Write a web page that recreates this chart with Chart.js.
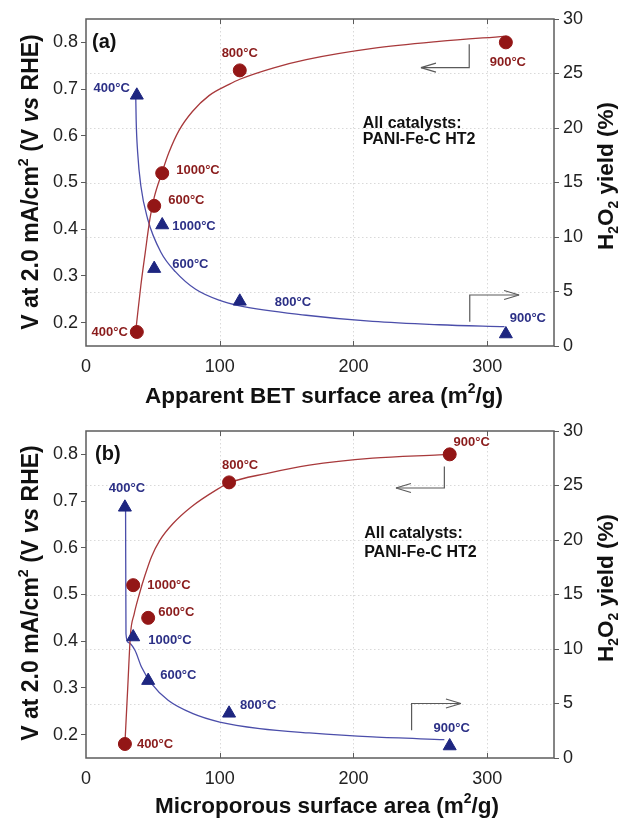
<!DOCTYPE html>
<html>
<head>
<meta charset="utf-8">
<script src="https://cdn.jsdelivr.net/npm/chart.js@4.4.0/dist/chart.umd.min.js"></script>
<style>
  body { margin: 0; background: #fff; }
  canvas { display: block; }
</style>
</head>
<body>
<canvas id="chartA" width="619" height="410"></canvas>
<canvas id="chartB" width="619" height="411"></canvas>
<script>
// catalyst heat-treatment temperatures (same order in every array)
const tempLabels = ['400°C', '600°C', '800°C', '900°C', '1000°C'];
const betArea = [38, 51, 115, 314, 57];          // apparent BET surface area, m2/g
const microArea = [29.1, 46.5, 107, 272, 35.3];  // microporous surface area, m2/g
const potentialV = [0.18, 0.45, 0.74, 0.80, 0.52]; // V at 2.0 mA/cm2
const h2o2Yield = [23.0, 7.1, 4.1, 1.1, 11.1];    // %

// fit curves
const betFitVx = [37.5, 41, 44.3, 47.8, 51, 56.7, 62, 69.7, 79.6, 92, 107, 115, 139.8, 164.7, 214.4, 264, 313];
const betFitVy = [0.19, 0.279, 0.35, 0.422, 0.468, 0.52, 0.564, 0.612, 0.652, 0.686, 0.710, 0.721, 0.745, 0.763, 0.787, 0.802, 0.813];
const betFitYx = [37.2, 37.5, 38.6, 41, 46, 56, 67, 82, 99.5, 115, 164.7, 214.4, 264, 313];
const betFitYy = [23.0, 20.8, 17.8, 14.7, 11.7, 8.6, 6.8, 5.2, 4.2, 3.68, 2.82, 2.25, 1.95, 1.77];
const microFitVx = [29.1, 31.2, 33.3, 36, 39.8, 44, 49, 55.2, 65.1, 78.9, 97.5, 107, 134.8, 167, 214.4, 264, 271];
const microFitVy = [0.18, 0.30, 0.416, 0.458, 0.50, 0.54, 0.581, 0.616, 0.652, 0.688, 0.724, 0.739, 0.759, 0.777, 0.792, 0.799, 0.80];
const microFitYx = [29.6, 29.9, 31.5, 36.6, 41.5, 49, 61.4, 80, 100, 129.9, 167, 214.4, 268];
const microFitYy = [23.0, 11.4, 10.6, 9.88, 8.35, 6.83, 5.3, 4.07, 3.3, 2.7, 2.3, 1.93, 1.69];

// axis ticks
const xTicks = [0, 100, 200, 300];
const vTicks = [0.2, 0.3, 0.4, 0.5, 0.6, 0.7, 0.8];
const yieldTicks = [0, 5, 10, 15, 20, 25, 30];

const FONT = '"Liberation Sans", Arial, Helvetica, sans-serif';
const RED = '#931616';
const RED_TXT = '#8a1c1c';
const RED_LINE = '#a8393b';
const BLUE = '#1e2680';
const BLUE_TXT = '#2c3086';
const BLUE_LINE = '#4b4eaa';

const vTitle = [{ t: 'V at 2.0 mA/cm' }, { t: '2', s: 'sup' }, { t: ' (V ' }, { t: 'vs', i: true }, { t: ' RHE)' }];
const yTitle = [{ t: 'H' }, { t: '2', s: 'sub' }, { t: 'O' }, { t: '2', s: 'sub' }, { t: ' yield (%)' }];

// panel layout: offsets of the temperature labels are pixels relative to the marker
const panels = [
    {
        canvas: 'chartA', tag: '(a)', area: betArea,
        vFitX: betFitVx, vFitY: betFitVy, yFitX: betFitYx, yFitY: betFitYy,
        xTitle: [{ t: 'Apparent BET surface area (m' }, { t: '2', s: 'sup' }, { t: '/g)' }],
        padTop: 19, xAxisH: 64,
        titlePos: { xCx: 324, xCy: 397, lCx: 32, lCy: 182, rCx: 607, rCy: 176 },
        tagPos: [92, 42],
        redLab: [[-9, 0, 'right'], [14, -5, 'left'], [0, -17, 'center'], [2, 20, 'center'], [14, -3, 'left']],
        blueLab: [[-7, -7, 'right'], [18, -4, 'left'], [35, 1, 'left'], [22, -16, 'center'], [10, 1, 'left']],
        note: [207, 0.627, 0.591],
        redArrow: [[286.6, 0.796], [286.6, 0.746], [250.5, 0.746]],
        blueArrow: [[287, 2.23], [287, 4.68], [323.9, 4.68]]
    },
    {
        canvas: 'chartB', tag: '(b)', area: microArea,
        vFitX: microFitVx, vFitY: microFitVy, yFitX: microFitYx, yFitY: microFitYy,
        xTitle: [{ t: 'Microporous surface area (m' }, { t: '2', s: 'sup' }, { t: '/g)' }],
        padTop: 21, xAxisH: 63,
        titlePos: { xCx: 327, xCy: 397, lCx: 32, lCy: 183, rCx: 607, rCy: 178 },
        tagPos: [95, 44],
        redLab: [[12, 0, 'left'], [10, -5, 'left'], [11, -17, 'center'], [22, -12, 'center'], [14, 0, 'left']],
        blueLab: [[2, -19, 'center'], [12, -5, 'left'], [11, -8, 'left'], [2, -18, 'center'], [15, 3, 'left']],
        note: [208, 0.631, 0.589],
        redArrow: [[268, 0.774], [268, 0.728], [231.8, 0.728]],
        blueArrow: [[243.5, 2.54], [243.5, 5.0], [280.4, 5.0]]
    }
];

// text with super/subscripts and italics, centred on (cx, cy)
function drawRich(ctx, parts, cx, cy, rot, size) {
    ctx.save();
    ctx.translate(cx, cy);
    ctx.rotate(rot);
    let total = 0;
    const items = parts.map(p => {
        const fs = p.s ? size * 0.62 : size;
        const font = (p.i ? 'italic ' : '') + 'bold ' + fs + 'px ' + FONT;
        ctx.font = font;
        const w = ctx.measureText(p.t).width;
        total += w;
        return { t: p.t, s: p.s, font: font, w: w };
    });
    let x = -total / 2;
    ctx.textAlign = 'left';
    ctx.textBaseline = 'middle';
    ctx.fillStyle = '#111';
    items.forEach(it => {
        ctx.font = it.font;
        const dy = it.s === 'sup' ? -size * 0.36 : it.s === 'sub' ? size * 0.3 : 0;
        ctx.fillText(it.t, x, dy);
        x += it.w;
    });
    ctx.restore();
}

function drawArrow(ctx, pts) {
    ctx.beginPath();
    ctx.moveTo(pts[0][0], pts[0][1]);
    for (let i = 1; i < pts.length; i++) ctx.lineTo(pts[i][0], pts[i][1]);
    ctx.stroke();
    const [x1, y1] = pts[pts.length - 2];
    const [x2, y2] = pts[pts.length - 1];
    const ang = Math.atan2(y2 - y1, x2 - x1);
    const len = 15, half = 4.5;
    ctx.beginPath();
    for (const s of [-1, 1]) {
        ctx.moveTo(x2, y2);
        ctx.lineTo(x2 - len * Math.cos(ang) - s * half * Math.sin(ang),
                   y2 - len * Math.sin(ang) + s * half * Math.cos(ang));
    }
    ctx.stroke();
}

function overlay(p) {
    return {
        id: 'overlay',
        beforeDatasetsDraw(chart) {
            const { ctx, chartArea: a, scales } = chart;
            ctx.save();
            ctx.strokeStyle = '#d9d9d9';
            ctx.lineWidth = 1;
            ctx.setLineDash([1.5, 2.5]);
            xTicks.forEach(v => {
                if (v <= 0) return;
                const px = Math.round(scales.x.getPixelForValue(v)) + 0.5;
                ctx.beginPath(); ctx.moveTo(px, a.top); ctx.lineTo(px, a.bottom); ctx.stroke();
            });
            yieldTicks.forEach(v => {
                if (v <= 0 || v >= 30) return;
                const py = Math.round(scales.y2.getPixelForValue(v)) + 0.5;
                ctx.beginPath(); ctx.moveTo(a.left, py); ctx.lineTo(a.right, py); ctx.stroke();
            });
            ctx.restore();
        },
        afterDraw(chart) {
            const { ctx, chartArea: a, scales } = chart;
            const sx = scales.x, sy = scales.y, sy2 = scales.y2;
            ctx.save();

            // frame and inward x ticks
            ctx.strokeStyle = '#5c5c5c';
            ctx.lineWidth = 1.5;
            ctx.strokeRect(a.left, a.top, a.right - a.left, a.bottom - a.top);
            ctx.lineWidth = 1;
            xTicks.forEach(v => {
                if (v <= 0) return;
                const px = Math.round(sx.getPixelForValue(v)) + 0.5;
                ctx.beginPath();
                ctx.moveTo(px, a.bottom); ctx.lineTo(px, a.bottom - 5);
                ctx.moveTo(px, a.top); ctx.lineTo(px, a.top + 5);
                ctx.stroke();
            });

            // arrows pointing to the matching axis
            ctx.strokeStyle = '#5a5a5a';
            ctx.lineWidth = 1.2;
            drawArrow(ctx, p.redArrow.map(q => [sx.getPixelForValue(q[0]), sy.getPixelForValue(q[1])]));
            drawArrow(ctx, p.blueArrow.map(q => [sx.getPixelForValue(q[0]), sy2.getPixelForValue(q[1])]));

            // temperature labels
            ctx.font = 'bold 13px ' + FONT;
            ctx.textBaseline = 'middle';
            tempLabels.forEach((lab, i) => {
                const rx = sx.getPixelForValue(p.area[i]);
                let o = p.redLab[i];
                ctx.fillStyle = RED_TXT;
                ctx.textAlign = o[2];
                ctx.fillText(lab, rx + o[0], sy.getPixelForValue(potentialV[i]) + o[1]);
                o = p.blueLab[i];
                ctx.fillStyle = BLUE_TXT;
                ctx.textAlign = o[2];
                ctx.fillText(lab, rx + o[0], sy2.getPixelForValue(h2o2Yield[i]) + o[1]);
            });

            // notes
            ctx.fillStyle = '#111';
            ctx.textAlign = 'left';
            ctx.font = 'bold 16px ' + FONT;
            const nx = sx.getPixelForValue(p.note[0]);
            ctx.fillText('All catalysts:', nx, sy.getPixelForValue(p.note[1]));
            ctx.fillText('PANI-Fe-C HT2', nx, sy.getPixelForValue(p.note[2]));
            ctx.font = 'bold 20px ' + FONT;
            ctx.fillText(p.tag, p.tagPos[0], p.tagPos[1]);

            // axis titles
            const tp = p.titlePos;
            drawRich(ctx, p.xTitle, tp.xCx, tp.xCy, 0, 22.5);
            drawRich(ctx, vTitle, tp.lCx, tp.lCy, -Math.PI / 2, 23);
            drawRich(ctx, yTitle, tp.rCx, tp.rCy, -Math.PI / 2, 22.5);
            ctx.restore();
        }
    };
}

function buildPanel(p) {
    const redPts = p.area.map((x, i) => ({ x: x, y: potentialV[i] }));
    const bluePts = p.area.map((x, i) => ({ x: x, y: h2o2Yield[i] }));
    const redFit = p.vFitX.map((x, i) => ({ x: x, y: p.vFitY[i] }));
    const blueFit = p.yFitX.map((x, i) => ({ x: x, y: p.yFitY[i] }));
    const tickFont = { family: FONT, size: 18 };

    new Chart(document.getElementById(p.canvas), {
        type: 'line',
        data: {
            datasets: [
                { data: redPts, yAxisID: 'y', showLine: false, pointStyle: 'circle', pointRadius: 6.5,
                  backgroundColor: RED, borderColor: RED, borderWidth: 1 },
                { data: bluePts, yAxisID: 'y2', showLine: false, pointStyle: 'triangle', pointRadius: 7.5,
                  backgroundColor: BLUE, borderColor: BLUE, borderWidth: 1 },
                { data: redFit, yAxisID: 'y', pointRadius: 0, borderColor: RED_LINE, borderWidth: 1.3,
                  cubicInterpolationMode: 'monotone', fill: false },
                { data: blueFit, yAxisID: 'y2', pointRadius: 0, borderColor: BLUE_LINE, borderWidth: 1.3,
                  cubicInterpolationMode: 'monotone', fill: false }
            ]
        },
        options: {
            responsive: false,
            animation: false,
            events: [],
            layout: { padding: { top: p.padTop, left: 0, right: 0, bottom: 0 } },
            plugins: { legend: { display: false }, tooltip: { enabled: false } },
            scales: {
                x: {
                    type: 'linear', min: 0, max: 350,
                    afterBuildTicks: s => { s.ticks = xTicks.map(v => ({ value: v })); },
                    afterFit: s => { s.height = p.xAxisH; },
                    grid: { display: false, drawTicks: false },
                    border: { display: false },
                    ticks: { font: tickFont, color: '#222', padding: 10 }
                },
                y: {
                    position: 'left', min: 0.15, max: 0.85,
                    afterBuildTicks: s => { s.ticks = vTicks.map(v => ({ value: v })); },
                    afterFit: s => { s.width = 86; },
                    grid: { drawOnChartArea: false, tickLength: 5, color: '#5c5c5c', lineWidth: 1 },
                    border: { display: false },
                    ticks: { font: tickFont, color: '#222', padding: 3, callback: v => v.toFixed(1) }
                },
                y2: {
                    position: 'right', min: 0, max: 30,
                    afterBuildTicks: s => { s.ticks = yieldTicks.map(v => ({ value: v })); },
                    afterFit: s => { s.width = 65; },
                    grid: { drawOnChartArea: false, tickLength: 5, color: '#5c5c5c', lineWidth: 1 },
                    border: { display: false },
                    ticks: { font: tickFont, color: '#222', padding: 4 }
                }
            }
        },
        plugins: [overlay(p)]
    });
}

panels.forEach(buildPanel);
</script>
</body>
</html>
